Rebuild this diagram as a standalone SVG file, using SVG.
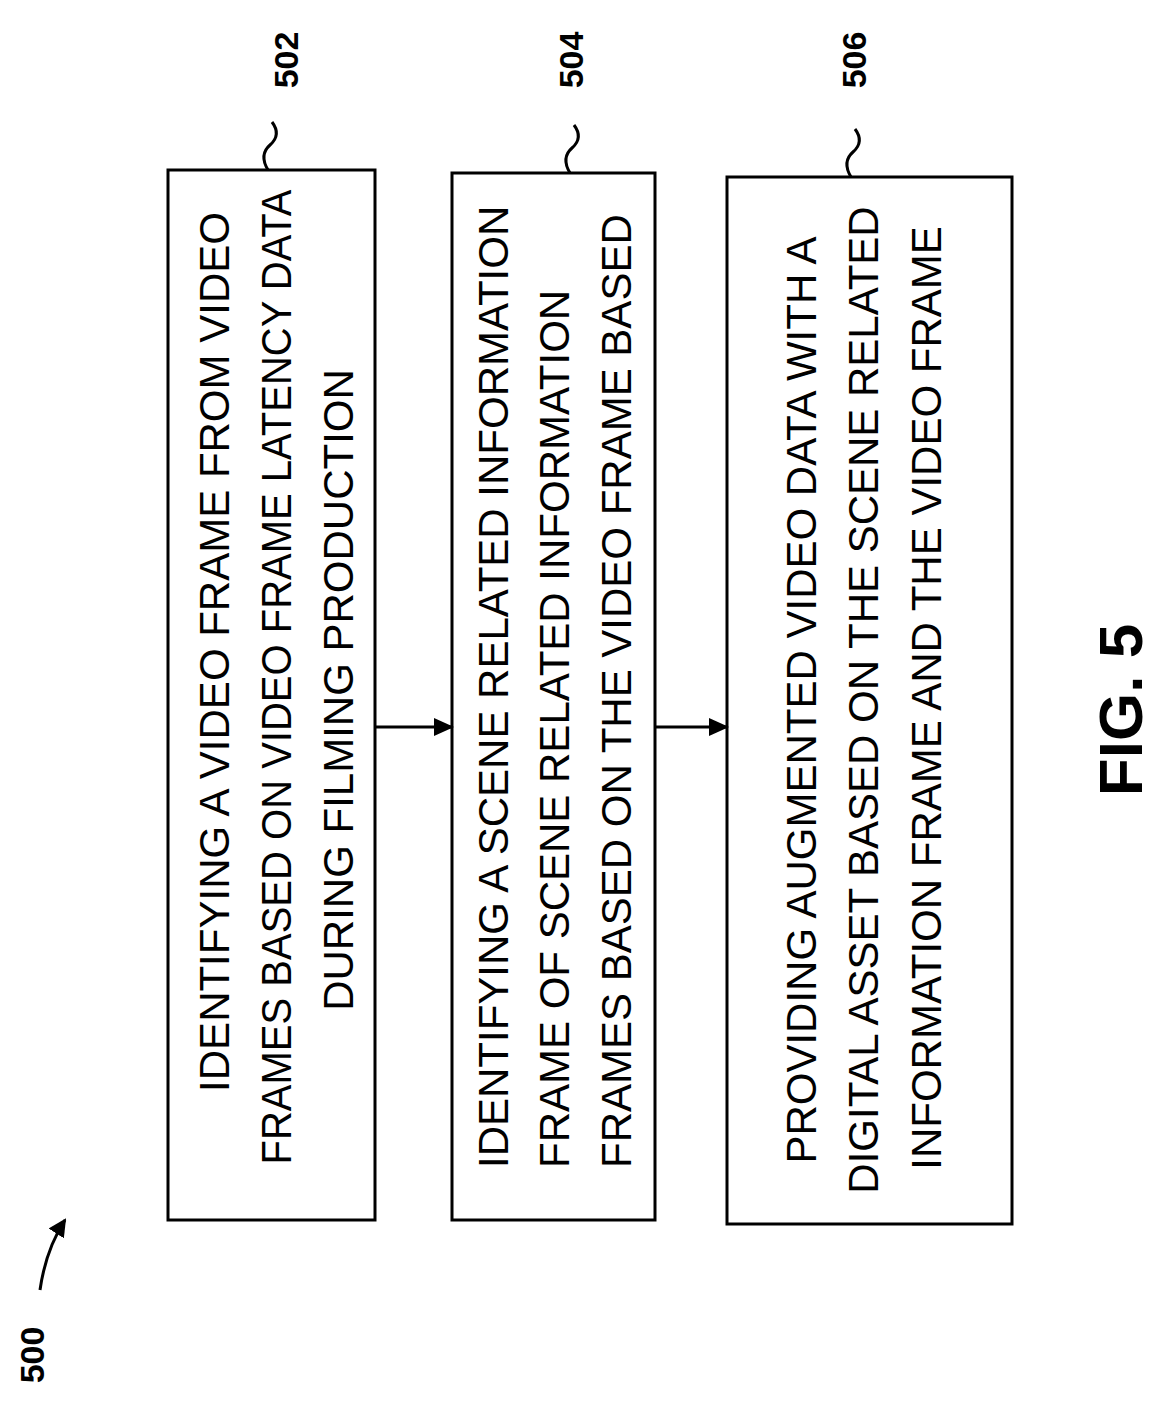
<svg xmlns="http://www.w3.org/2000/svg" width="1168" height="1426" viewBox="0 0 1168 1426">
<style>
.box{fill:#fff;stroke:#000;stroke-width:3}
.t{font-family:"Liberation Sans",Arial,sans-serif;font-size:42px;fill:#000}
.lbl{font-family:"Liberation Sans",Arial,sans-serif;font-size:34px;font-weight:bold;fill:#000}
.ln{fill:none;stroke:#000;stroke-width:3}
</style>
<defs><marker id="ah" markerWidth="20" markerHeight="18" refX="18" refY="9" orient="auto" markerUnits="userSpaceOnUse" viewBox="0 0 20 18"><path d="M0,0 L20,9 L0,18 z" fill="#000"/></marker>
<marker id="ah2" markerWidth="18" markerHeight="18" refX="16" refY="9" orient="auto" markerUnits="userSpaceOnUse" viewBox="0 0 18 18"><path d="M0,0 L18,9 L0,18 z" fill="#000"/></marker></defs>
<rect width="1168" height="1426" fill="#fff"/>
<g id="n502">
<rect class="box" x="168" y="170" width="207" height="1050"/>
<text class="t" text-anchor="middle" transform="translate(229,652) rotate(-90)">IDENTIFYING A VIDEO FRAME FROM VIDEO</text>
<text class="t" text-anchor="middle" textLength="975" lengthAdjust="spacingAndGlyphs" transform="translate(291,677) rotate(-90)">FRAMES BASED ON VIDEO FRAME LATENCY DATA</text>
<text class="t" text-anchor="middle" transform="translate(353,690) rotate(-90)">DURING FILMING PRODUCTION</text>
</g>
<g id="n504">
<rect class="box" x="452" y="173" width="203" height="1047"/>
<text class="t" transform="translate(508,1168) rotate(-90)">IDENTIFYING A SCENE RELATED INFORMATION</text>
<text class="t" transform="translate(569,1168) rotate(-90)">FRAME OF SCENE RELATED INFORMATION</text>
<text class="t" transform="translate(631,1168) rotate(-90)">FRAMES BASED ON THE VIDEO FRAME BASED</text>
</g>
<g id="n506">
<rect class="box" x="727" y="177" width="285" height="1047"/>
<text class="t" text-anchor="middle" transform="translate(816,700) rotate(-90)">PROVIDING AUGMENTED VIDEO DATA WITH A</text>
<text class="t" text-anchor="middle" transform="translate(878,700) rotate(-90)">DIGITAL ASSET BASED ON THE SCENE RELATED</text>
<text class="t" text-anchor="middle" transform="translate(941,698) rotate(-90)">INFORMATION FRAME AND THE VIDEO FRAME</text>
</g>
<g id="labels">
<text class="lbl" text-anchor="middle" transform="translate(298,60) rotate(-90)">502</text>
<text class="lbl" text-anchor="middle" transform="translate(583,60) rotate(-90)">504</text>
<text class="lbl" text-anchor="middle" transform="translate(866,60) rotate(-90)">506</text>
<text class="lbl" text-anchor="middle" transform="translate(44,1355) rotate(-90)">500</text>
<text class="lbl" style="font-size:62px" text-anchor="middle" transform="translate(1142,710) rotate(-90)">FIG. 5</text>
</g>
<g id="connectors">
<line class="ln" x1="375" y1="727" x2="452" y2="727" marker-end="url(#ah)"/>
<line class="ln" x1="655" y1="727" x2="727" y2="727" marker-end="url(#ah)"/>
<path class="ln" stroke-width="2.5" d="M268,170 C262,160 262,152 270,145 C278,138 278,130 272,122"/>
<path class="ln" stroke-width="2.5" d="M570,173 C564,163 564,155 572,148 C580,141 580,133 574,125"/>
<path class="ln" stroke-width="2.5" d="M851,177 C845,167 845,159 853,152 C861,145 861,137 855,129"/>
<path class="ln" stroke-width="3" d="M40,1290 C44,1262 52,1240 65,1220" marker-end="url(#ah2)"/>
</g>
</svg>
